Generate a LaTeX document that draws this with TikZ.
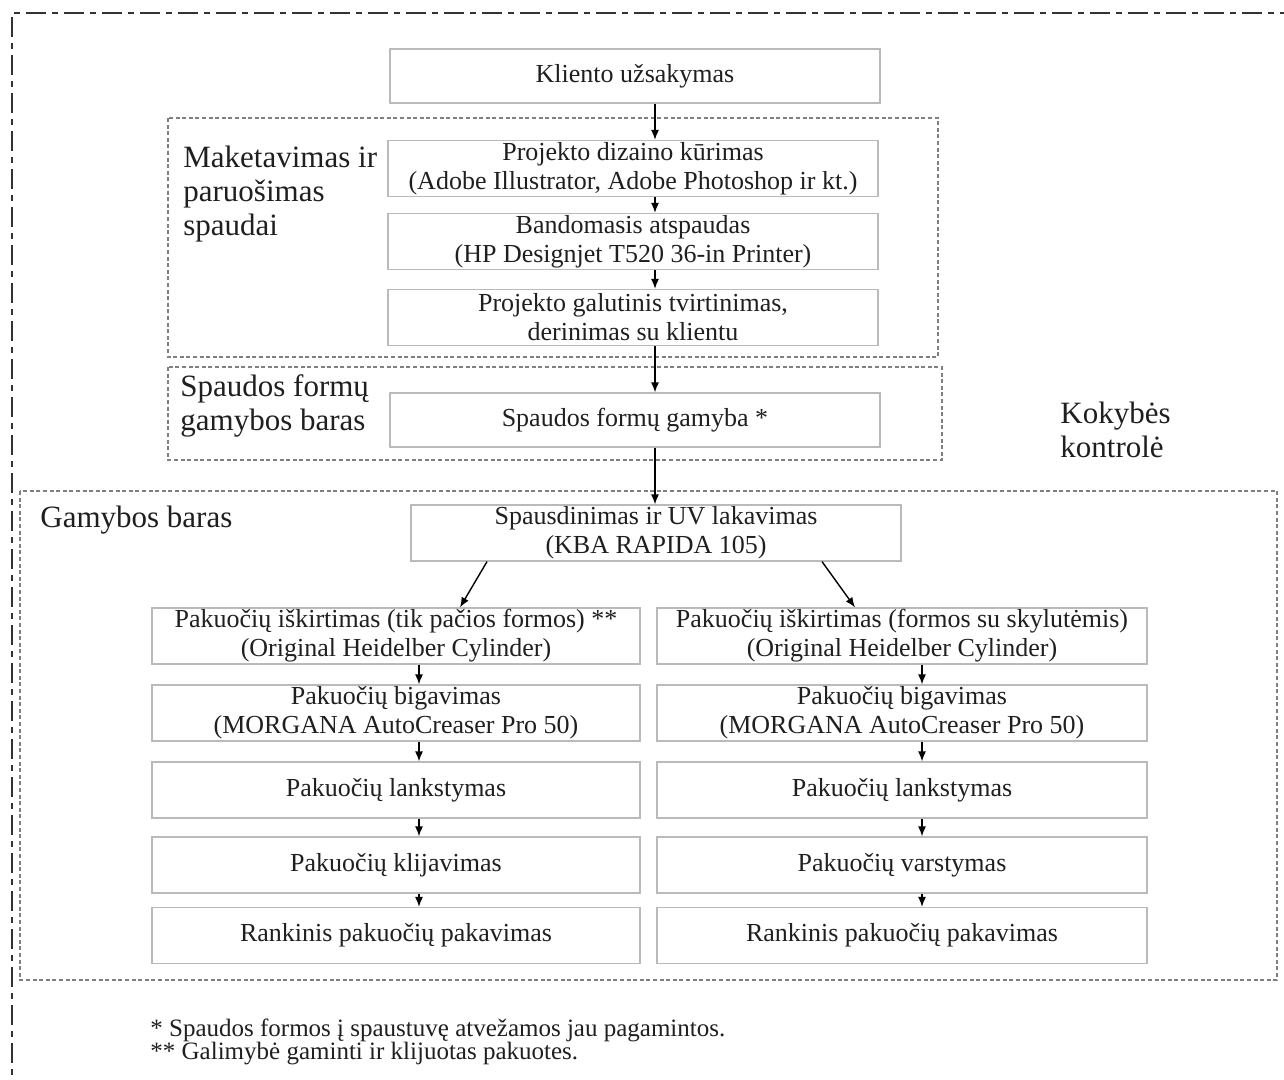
\documentclass[tikz,border=0pt]{standalone}
\usepackage{fontspec}
\setmainfont{Liberation Serif}
\usetikzlibrary{arrows.meta}

\begin{document}
\begin{tikzpicture}[x=0.5pt,y=-0.5pt,
    stage/.style={draw=black!27,line width=0.6pt,minimum width=245pt,minimum height=28pt,inner sep=0pt,align=center,text=black!88,font=\fontsize{13}{14.5}\selectfont},
    area/.style={draw=black!50,line width=0.6pt,dash pattern=on 2pt off 1.3pt},
    areatext/.style={anchor=west,inner sep=0pt,align=left,text=black!88,font=\fontsize{15.5}{17}\selectfont},
    note/.style={anchor=west,inner sep=0pt,text=black!88,font=\fontsize{12.5}{12}\selectfont},
    arr/.style={-{Latex[length=5pt,width=4pt]},line width=0.7pt}]
            \useasboundingbox (0,0) rectangle (1284,1080);
            \draw[black!80,line width=0.8pt,dash pattern=on 10pt off 3pt on 3pt off 3pt] (1300,13) -| (12,1095);
            \draw[area] (168,118) rectangle (938,357);
            \draw[area] (168,367) rectangle (942,460);
            \draw[area] (20,491) rectangle (1277,980);
            \node[stage,minimum height=27pt] (klient) at (635,76) {Kliento užsakymas};
            \node[stage] (dizain) at (633,168.5) {Projekto dizaino kūrimas\\(Adobe Illustrator, Adobe Photoshop ir kt.)};
            \node[stage] (bandom) at (633,241.5) {Bandomasis atspaudas\\(HP Designjet T520 36-in Printer)};
            \node[stage] (galut) at (633,317.5) {Projekto galutinis tvirtinimas,\\derinimas su klientu};
            \node[stage,minimum height=27pt] (formos) at (635,420) {Spaudos formų gamyba *};
            \node[stage] (spausd) at (656,533) {Spausdinimas ir UV lakavimas\\(KBA RAPIDA 105)};
            \node[stage,minimum width=244pt] (kirtL) at (396,636) {Pakuočių iškirtimas (tik pačios formos) **\\(Original Heidelber Cylinder)};
            \node[stage,minimum width=244pt] (bigL) at (396,713) {Pakuočių bigavimas\\(MORGANA AutoCreaser Pro 50)};
            \node[stage,minimum width=244pt] (lankL) at (396,790) {Pakuočių lankstymas};
            \node[stage,minimum width=244pt] (klijL) at (396,865) {Pakuočių klijavimas};
            \node[stage,minimum width=244pt] (pakL) at (396,935.5) {Rankinis pakuočių pakavimas};
            \node[stage] (kirtR) at (902,636) {Pakuočių iškirtimas (formos su skylutėmis)\\(Original Heidelber Cylinder)};
            \node[stage] (bigR) at (902,713) {Pakuočių bigavimas\\(MORGANA AutoCreaser Pro 50)};
            \node[stage] (lankR) at (902,790) {Pakuočių lankstymas};
            \node[stage] (varsR) at (902,865) {Pakuočių varstymas};
            \node[stage] (pakR) at (902,935.5) {Rankinis pakuočių pakavimas};
            \node[areatext] (maket) at (183,194) {Maketavimas ir\\paruošimas\\spaudai};
            \node[areatext] (formbar) at (180,405.5) {Spaudos formų\\gamybos baras};
            \node[areatext] (kokyb) at (1060,430) {Kokybės\\kontrolė};
            \node[areatext] (gamyb) at (40,520) {Gamybos baras};
            \node[note] (fn1) at (150,1030) {* Spaudos formos į spaustuvę atvežamos jau pagamintos.};
            \node[note] (fn2) at (150,1054) {** Galimybė gaminti ir klijuotas pakuotes.};
            \coordinate (axC) at (655,0);
            \coordinate (axL) at (419,0);
            \coordinate (axR) at (922,0);
            \draw[arr] (klient.south -| axC)--(dizain.north -| axC);
            \draw[arr] (dizain.south -| axC)--(bandom.north -| axC);
            \draw[arr] (bandom.south -| axC)--(galut.north -| axC);
            \draw[arr] (galut.south -| axC)--(formos.north -| axC);
            \draw[arr] (formos.south -| axC)--(spausd.north -| axC);
            \draw[arr] ([xshift=-84.5pt]spausd.south)--([xshift=32pt]kirtL.north);
            \draw[arr] ([xshift=83pt]spausd.south)--([xshift=-23.5pt]kirtR.north);
            \draw[arr] (kirtL.south -| axL)--(bigL.north -| axL);
            \draw[arr] (bigL.south -| axL)--(lankL.north -| axL);
            \draw[arr] (lankL.south -| axL)--(klijL.north -| axL);
            \draw[arr] (klijL.south -| axL)--(pakL.north -| axL);
            \draw[arr] (kirtR.south -| axR)--(bigR.north -| axR);
            \draw[arr] (bigR.south -| axR)--(lankR.north -| axR);
            \draw[arr] (lankR.south -| axR)--(varsR.north -| axR);
            \draw[arr] (varsR.south -| axR)--(pakR.north -| axR);
        \end{tikzpicture}
\end{document}
